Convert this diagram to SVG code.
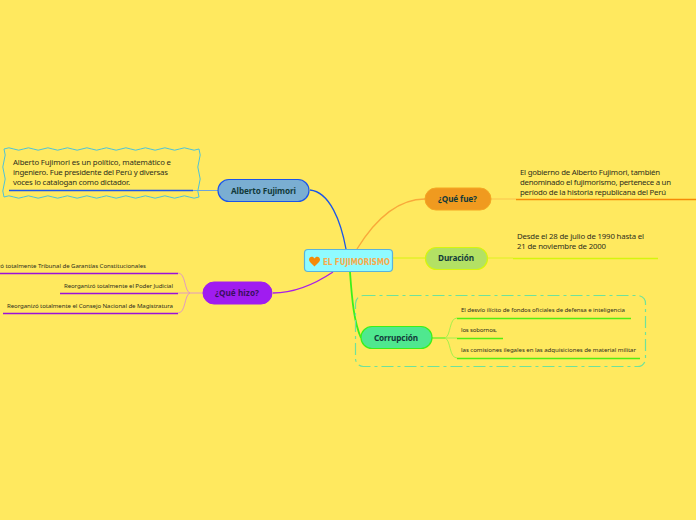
<svg xmlns="http://www.w3.org/2000/svg" width="696" height="520" viewBox="0 0 696 520">
<style>
text{font-family:"Noto Sans","Open Sans","DejaVu Sans",sans-serif;fill:#2e2e1c}
.t9{font-size:7.8px}
.t7{font-size:6.1px}
.n{font-size:8.2px;font-weight:700;fill:#123a3a}
.c{fill:none}
</style>
<rect width="696" height="520" fill="#ffe95f"/>
<g id="connectors" class="c">
<path d="M310 190C330 192 341 222 346 249" stroke="#1c56e8" stroke-width="1.300"/>
<path d="M357 249C378 215 400 199 425 199" stroke="#f9a93a" stroke-width="1.300"/>
<path d="M393 258H425" stroke="#d6f50d" stroke-width="1"/>
<path d="M350 272C352 300 354 322 361 338" stroke="#3cf01a" stroke-width="1.800"/>
<path d="M333 272C315 284 295 293 273 293" stroke="#a81fe8" stroke-width="1.300"/>
<path d="M218 190.500H193" stroke="#6ea4d8" stroke-width="1"/>
<path d="M9 190.500H193" stroke="#1c56e8" stroke-width="1.500"/>
<path d="M491 199H516" stroke="#f9b94a" stroke-width="0.800"/>
<path d="M516 199.500H696" stroke="#f58a07" stroke-width="1.500"/>
<path d="M488 258H513" stroke="#d6f50d" stroke-width="0.800"/>
<path d="M513 258.500H658" stroke="#d6f50d" stroke-width="1.500"/>
<path d="M203 293H178M190 293C184 291 186 273 178 273M190 293C184 295 186 313 178 313" stroke="#e29ac0" stroke-width="1"/>
<path d="M0 273.500H178" stroke="#9a12d8" stroke-width="1.500"/>
<path d="M60 293.500H178" stroke="#9a12d8" stroke-width="1.500"/>
<path d="M3 313.500H178" stroke="#9a12d8" stroke-width="1.500"/>
<path d="M432 338H445C451 336 449 318 457 318M445 338H457M445 338C451 340 449 358 457 358" stroke="#a6f04a" stroke-width="1"/>
<path d="M432 338H445" stroke="#7af02a" stroke-width="1.200"/>
<path d="M457 318.500H631" stroke="#54ee10" stroke-width="1.700"/>
<path d="M457 338.500H503" stroke="#54ee10" stroke-width="1.700"/>
<path d="M457 358.500H640" stroke="#54ee10" stroke-width="1.700"/>
</g>
<g id="boundary-corrupcion">
<rect x="355.500" y="295.500" width="290" height="71" rx="8" fill="none" stroke="#6fe29a" stroke-width="1.200" stroke-dasharray="12 4 3 4"/>
</g>
<g id="boundary-alberto">
<path d="M4 149q4.875-2.400 9.750 0t9.750 0 9.750 0 9.750 0 9.750 0 9.750 0 9.750 0 9.750 0 9.750 0 9.750 0 9.750 0 9.750 0 9.750 0 9.750 0 9.750 0 9.750 0 9.750 0 9.750 0 9.750 0 9.750 0q2.400 6 0 12t0 12 0 12 0 12q-4.875 2.400-9.750 0t-9.750 0-9.750 0-9.750 0-9.750 0-9.750 0-9.750 0-9.750 0-9.750 0-9.750 0-9.750 0-9.750 0-9.750 0-9.750 0-9.750 0-9.750 0-9.750 0-9.750 0-9.750 0-9.750 0q-2.400-6 0-12t0-12 0-12 0-12z" fill="none" stroke="#4ec3d8" stroke-width="1"/>
</g>
<g id="node-central">
<rect x="304.500" y="249.500" width="88" height="22" rx="3.500" fill="#8ffbff" stroke="#5bb3d9" stroke-width="1.200"/>
<path d="M314.500 266.500C311 263 309 261.500 309 259.500C309 256.500 313 255.500 314.500 258.500C316 255.500 320 256.500 320 259.500C320 261.500 318 263 314.500 266.500Z" fill="#f58a07"/>
<text x="323" y="264.500" textLength="67" lengthAdjust="spacingAndGlyphs" style="font-family:'DejaVu Sans',sans-serif;font-size:9.500px;font-weight:700;fill:#f9a94a">EL FUJIMORISMO</text>
</g>
<g id="node-alberto">
<rect x="218" y="179.500" width="91" height="22" rx="11" fill="#7aaed2" stroke="#1c56e8" stroke-width="1.200"/>
<text class="n" x="231" y="193.500" textLength="65">Alberto Fujimori</text>
<text class="t9" x="13" y="165" textLength="158">Alberto Fujimori  es un político, matemático e</text>
<text class="t9" x="13" y="175" textLength="155">ingeniero. Fue presidente del Perú y diversas</text>
<text class="t9" x="13" y="185" textLength="117">voces lo catalogan como dictador.</text>
</g>
<g id="node-quefue">
<rect x="425" y="188" width="66" height="22" rx="11" fill="#f09a1f" stroke="#f5a623" stroke-width="1"/>
<text class="n" x="438" y="202" textLength="39">¿Qué fue?</text>
<text class="t9" x="520" y="175" textLength="140">El gobierno de Alberto Fujimori, también</text>
<text class="t9" x="520" y="185" textLength="151">denominado el fujimorismo, pertenece a un</text>
<text class="t9" x="520" y="195" textLength="146">período de la historia republicana del Perú</text>
</g>
<g id="node-duracion">
<rect x="425.500" y="247.500" width="62" height="22" rx="11" fill="#b3e164" stroke="#d6f50d" stroke-width="1.200"/>
<text class="n" x="438" y="261" textLength="36">Duración</text>
<text class="t9" x="517" y="239" textLength="127">Desde el 28 de julio de 1990 hasta el</text>
<text class="t9" x="517" y="249" textLength="89">21 de noviembre de 2000</text>
</g>
<g id="node-corrupcion">
<rect x="361" y="326.500" width="71" height="22" rx="11" fill="#4fe88f" stroke="#3cf01a" stroke-width="1.200"/>
<text class="n" x="374" y="341" textLength="44">Corrupción</text>
<text class="t7" x="461" y="312" textLength="164">El desvío ilícito de fondos oficiales de defensa e inteligencia</text>
<text class="t7" x="461" y="332" textLength="36">los sobornos,</text>
<text class="t7" x="461" y="352" textLength="175">las comisiones ilegales en las adquisiciones de material militar</text>
</g>
<g id="node-quehizo">
<rect x="203" y="282" width="69" height="22" rx="11" fill="#a01cf0" stroke="#a01cf0"/>
<text class="n" x="215" y="296" textLength="44" style="fill:#3a1060">¿Qué hizo?</text>
<text class="t7" x="-28" y="268" textLength="174">Reorganizó totalmente  Tribunal de Garantías Constitucionales</text>
<text class="t7" x="64" y="288" textLength="109">Reorganizó totalmente el Poder Judicial</text>
<text class="t7" x="7" y="308" textLength="166">Reorganizó totalmente el Consejo Nacional de Magistratura</text>
</g>
</svg>
